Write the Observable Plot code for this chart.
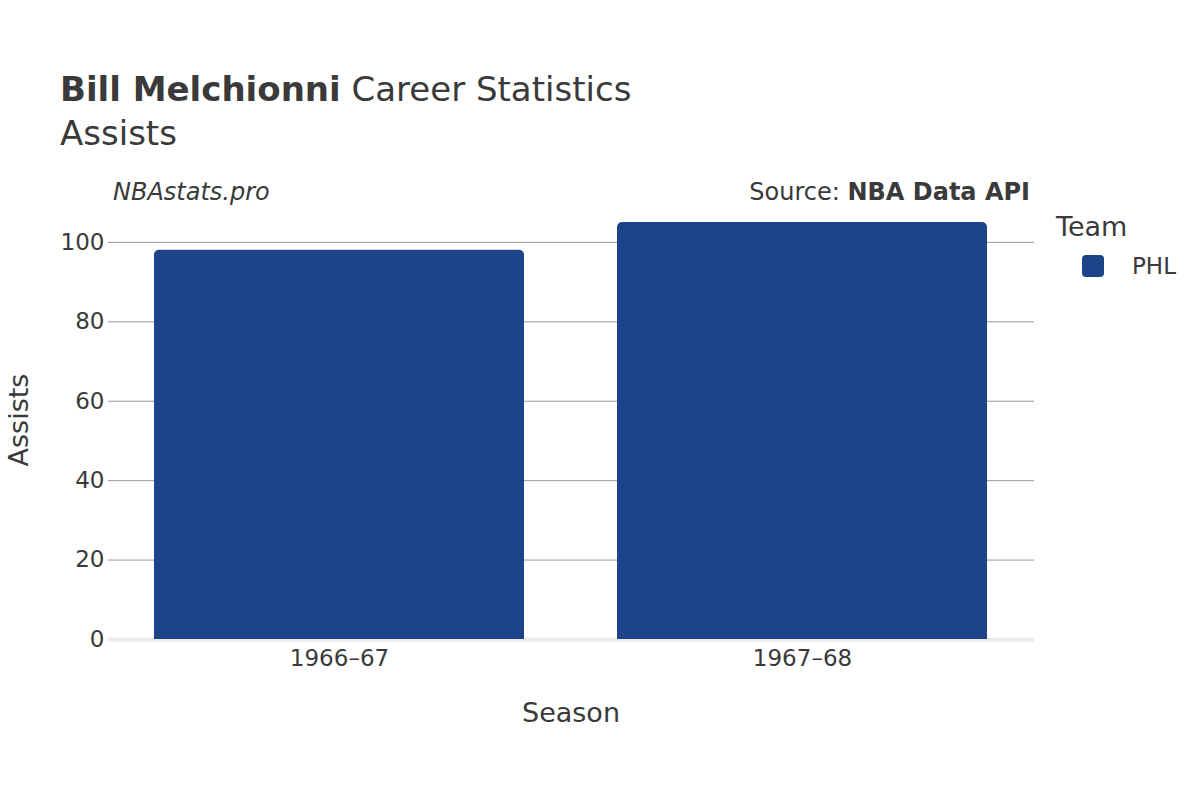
<!DOCTYPE html>
<html>
<head>
<meta charset="utf-8">
<script src="https://cdn.jsdelivr.net/npm/d3@7"></script>
<script src="https://cdn.jsdelivr.net/npm/@observablehq/plot@0.6"></script>
<style>
  body { margin: 0; background: #fff; font-family: "DejaVu Sans", sans-serif; }
  #wrap { position: relative; width: 1200px; height: 800px; overflow: hidden; }
  #chart { position: absolute; left: 0; top: 0; }
  .t { position: absolute; color: #3a3a3a; white-space: nowrap; line-height: 1; }
</style>
</head>
<body>
<div id="wrap">
  <div id="chart"></div>
  <div class="t" style="left:60px; top:72px; font-size:34px;"><b>Bill Melchionni</b> Career Statistics</div>
  <div class="t" style="left:60px; top:116px; font-size:34px;">Assists</div>
  <div class="t" style="left:113px; top:180px; font-size:24px; font-style:italic;">NBAstats.pro</div>
  <div class="t" style="right:170px; top:180px; font-size:24px;">Source: <b>NBA Data API</b></div>
  <div class="t" style="left:1056px; top:213px; font-size:27px;">Team</div>
  <div style="position:absolute; left:1082px; top:255px; width:22px; height:22px; border-radius:4px; background:#1d4388;"></div>
  <div class="t" style="left:1132px; top:255px; font-size:23px;">PHL</div>
  <div class="t" style="left:571px; top:712px; font-size:27px; transform:translate(-50%,-50%);">Season</div>
  <div class="t" style="left:18px; top:420px; font-size:27px; transform:translate(-50%,-50%) rotate(-90deg);">Assists</div>
</div>
<script>
const seasons = ["1966–67", "1967–68"];
const teams = ["PHL", "PHL"];
const assists = [98, 105];
const yTicks = [0, 20, 40, 60, 80, 100];

const data = seasons.map((s, i) => ({season: s, team: teams[i], assists: assists[i]}));

const chart = Plot.plot({
  width: 1200,
  height: 800,
  marginLeft: 108,
  marginRight: 166,
  marginTop: 222,
  marginBottom: 161,
  style: {fontFamily: "DejaVu Sans, sans-serif", fontSize: "23px", color: "#3a3a3a", background: "transparent"},
  x: {domain: seasons, paddingInner: 0.2, paddingOuter: 0.1, label: null},
  y: {domain: [0, 105], label: null},
  marks: [
    Plot.gridY(yTicks.filter(d => d !== 0), {stroke: "#999", strokeOpacity: 1, strokeWidth: 1}),
    Plot.ruleY([0], {stroke: "#ebebeb", strokeWidth: 4}),
    Plot.barY(data, {x: "season", y: "assists", fill: "#1d4388", rx: 5, insetBottom: -8, clip: true}),
    Plot.axisY(yTicks, {tickSize: 0, tickPadding: 4, label: null, fontSize: 23}),
    Plot.axisX({tickSize: 0, tickPadding: 10, label: null, fontSize: 23})
  ]
});
document.getElementById("chart").appendChild(chart);
</script>
</body>
</html>
